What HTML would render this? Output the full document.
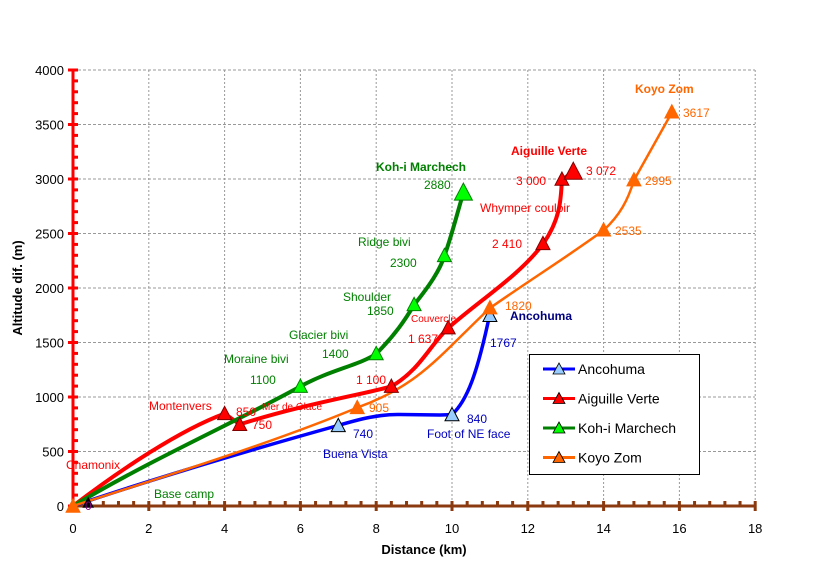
<!DOCTYPE html>
<html><head><meta charset="utf-8"><style>
body{margin:0;background:#fff;}
svg{display:block;font-family:"Liberation Sans",Arial,sans-serif;}
</style></head><body>
<svg id="s" width="819" height="566" viewBox="0 0 819 566" xmlns="http://www.w3.org/2000/svg">
<rect width="819" height="566" fill="#fff"/>
<g id="grid" stroke="#999" stroke-width="1" stroke-dasharray="3,2" fill="none"></g>
<g id="axes"></g>
<g id="ticklabels" font-size="13" fill="#000"></g>
<text x="424" y="554" font-size="13" font-weight="bold" text-anchor="middle">Distance (km)</text>
<text x="22" y="288" font-size="13" font-weight="bold" text-anchor="middle" transform="rotate(-90 22 288)">Altitude dif. (m)</text>

<!-- series -->
<path d="M73,506 C150,480 250,450 338,425.5 C360,419 380,414 400,414.5 L440,415 L452,414.6 C468,400 478,370 489.9,313.8" stroke="#0000ff" stroke-width="3.5" fill="none"/>
<path d="M73,506 C120,470 180,430 224.6,413.6 L239.8,424.4 C300,405 360,395 391.4,386.4 C420,370 430,345 448.2,328 C480,300 520,275 543,243.9 C560,220 561,200 561.9,179.75 L573.3,171.9" stroke="#ff0000" stroke-width="4" fill="none"/>
<path d="M73,506 C150,460 240,420 300.4,386.4 C330,370 360,365 376.2,353.75 C395,335 405,320 414.1,304.8 C430,285 440,270 444.4,255.9 C452,235 458,210 463.4,192.8" stroke="#008000" stroke-width="4" fill="none"/>
<path d="M73,506 C170,475 280,440 357.3,407.6 C420,385 440,355 489.9,308.1 C530,280 570,255 603.6,230.3 C620,215 628,200 633.9,180.3 L671.8,112.6" stroke="#ff6600" stroke-width="2.5" fill="none"/>
<g id="markers"></g>

<g font-size="12">
<text x="66" y="469" fill="#ff0000">Chamonix</text>
<text x="149" y="410" fill="#ff0000">Montenvers</text>
<text x="236" y="416" fill="#ff0000">850</text>
<text x="252" y="429" fill="#ff0000">750</text>
<text x="262" y="410" fill="#ff0000" font-size="10">Mer de Glace</text>
<text x="356" y="384" fill="#ff0000">1 100</text>
<text x="411" y="322" fill="#ff0000" font-size="10">Couvercle</text>
<text x="408" y="343" fill="#ff0000">1 637</text>
<text x="492" y="248" fill="#ff0000">2 410</text>
<text x="480" y="212" fill="#ff0000">Whymper couloir</text>
<text x="516" y="185" fill="#ff0000">3 000</text>
<text x="586" y="175" fill="#ff0000">3 072</text>
<text x="511" y="155" fill="#ff0000" font-weight="bold">Aiguille Verte</text>
<text x="154" y="498" fill="#008000">Base camp</text>
<text x="224" y="363" fill="#008000">Moraine bivi</text>
<text x="250" y="384" fill="#008000">1100</text>
<text x="289" y="339" fill="#008000">Glacier bivi</text>
<text x="322" y="358" fill="#008000">1400</text>
<text x="343" y="301" fill="#008000">Shoulder</text>
<text x="367" y="315" fill="#008000">1850</text>
<text x="358" y="246" fill="#008000">Ridge bivi</text>
<text x="390" y="267" fill="#008000">2300</text>
<text x="424" y="189" fill="#008000">2880</text>
<text x="376" y="171" fill="#008000" font-weight="bold">Koh-i Marchech</text>
<text x="353" y="438" fill="#0000c0">740</text>
<text x="323" y="458" fill="#0000c0">Buena Vista</text>
<text x="467" y="423" fill="#0000c0">840</text>
<text x="427" y="438" fill="#0000c0">Foot of NE face</text>
<text x="490" y="347" fill="#0000c0">1767</text>
<text x="510" y="320" fill="#000080" font-weight="bold">Ancohuma</text>
<text x="369" y="412" fill="#ff6600">905</text>
<text x="505" y="310" fill="#ff6600">1820</text>
<text x="615" y="235" fill="#ff6600">2535</text>
<text x="645" y="185" fill="#ff6600">2995</text>
<text x="683" y="117" fill="#ff6600">3617</text>
<text x="635" y="93" fill="#ff6600" font-weight="bold">Koyo Zom</text>
<text x="85" y="510" fill="#800080">0</text>
</g>

<rect x="529.5" y="354.5" width="170" height="120" fill="#fff" stroke="#000" stroke-width="1"/>
<g id="legend" font-size="14" fill="#000"></g>
</svg>
<script>
var NS="http://www.w3.org/2000/svg";
function el(p,t,a,txt){var e=document.createElementNS(NS,t);for(var k in a)e.setAttribute(k,a[k]);if(txt!==undefined)e.textContent=txt;document.getElementById(p).appendChild(e);return e;}
function X(d){return 73+37.9*d;}
function Y(a){return 506-0.109*a;}
for(var d=2;d<=18;d+=2)el("grid","line",{x1:X(d),y1:70,x2:X(d),y2:506,"stroke-dasharray":"2,2"});
for(var a=500;a<=4000;a+=500)el("grid","line",{x1:73,y1:Y(a),x2:755,y2:Y(a)});
el("axes","line",{x1:73,y1:70,x2:73,y2:508,stroke:"#ff0000","stroke-width":3});
el("axes","line",{x1:72,y1:506,x2:755,y2:506,stroke:"#8b3a0f","stroke-width":3});
for(var a=0;a<=4000;a+=100){var maj=a%500==0;el("axes","line",{x1:maj?68:73,y1:Y(a),x2:78,y2:Y(a),stroke:"#ff0000","stroke-width":3});}
for(var d=0;d<=18.01;d+=0.4){var maj=Math.abs(d/2-Math.round(d/2))<0.01;el("axes","line",{x1:X(d),y1:maj?511:506,x2:X(d),y2:501,stroke:"#8b3a0f","stroke-width":3});}
for(var a=0;a<=4000;a+=500)el("ticklabels","text",{x:64,y:Y(a)+5,"text-anchor":"end"},String(a));
for(var d=0;d<=18;d+=2)el("ticklabels","text",{x:X(d),y:533,"text-anchor":"middle"},String(d));
function tri(x,y,s,f,st){el("markers","path",{d:"M"+(x-s)+","+(y+s*0.9)+" L"+x+","+(y-s)+" L"+(x+s)+","+(y+s*0.9)+"Z",fill:f,stroke:st,"stroke-width":1});}
[[7,740],[10,840],[11,1750]].forEach(function(p){tri(X(p[0]),Y(p[1]),7,"#99ccff","#000");});
[[4,850],[4.4,750],[8.4,1100],[9.9,1637],[12.4,2410],[12.9,3000]].forEach(function(p){tri(X(p[0]),Y(p[1]),7,"#ff0000","#800000");});
tri(X(13.2),Y(3072),9,"#ff0000","#800000");
[[6,1100],[8,1400],[9,1850],[9.8,2300]].forEach(function(p){tri(X(p[0]),Y(p[1]),7,"#00ff00","#008000");});
tri(X(10.3),Y(2880),9,"#00ff00","#008000");
[[7.5,905],[11,1820],[14,2535],[14.8,2995],[15.8,3617],[0,0]].forEach(function(p){tri(X(p[0]),Y(p[1]),7,"#ff6600","#ff6600");});
tri(X(0.4),Y(30),5,"#000","#000");
var L=[["Ancohuma","#0000ff","#99ccff"],["Aiguille Verte","#ff0000","#ff0000"],["Koh-i Marchech","#008000","#00ff00"],["Koyo Zom","#ff6600","#ff6600"]];
L.forEach(function(l,i){var y=369+i*29.5;
el("legend","line",{x1:543,y1:y,x2:575,y2:y,stroke:l[1],"stroke-width":3});
el("legend","path",{d:"M553,"+(y+5)+" L559,"+(y-6)+" L565,"+(y+5)+"Z",fill:l[2],stroke:"#000","stroke-width":0.8});
el("legend","text",{x:578,y:y+5},l[0]);});
</script>
</body></html>
